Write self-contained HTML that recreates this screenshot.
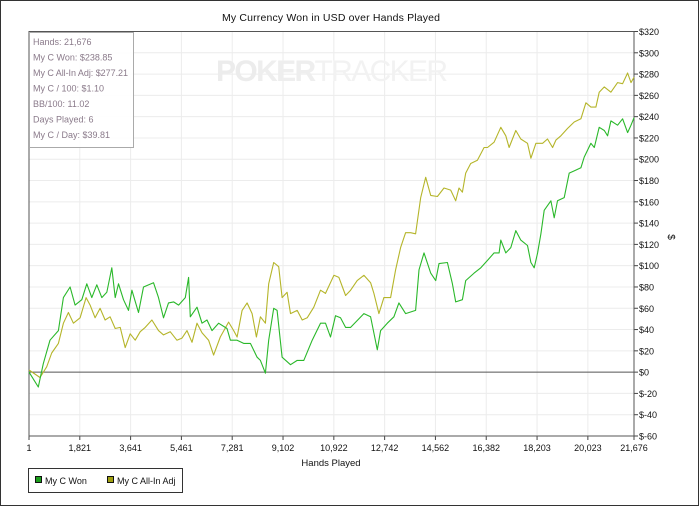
<!DOCTYPE html>
<html><head><meta charset="utf-8"><style>
html,body{margin:0;padding:0;background:#fff}
svg{display:block;font-family:"Liberation Sans",sans-serif}
</style></head><body>
<svg id="chart" width="700" height="507" viewBox="0 0 700 507">
<rect x="0.5" y="0.5" width="698" height="505" fill="#fff" stroke="#333"/>
<text x="331" y="21" font-size="10.5" text-anchor="middle" fill="#111" textLength="218">My Currency Won in USD over Hands Played</text>
<g id="grid"></g>
<text x="332" y="81" font-size="30" text-anchor="middle" fill="#ececec" font-weight="bold" textLength="232">PO<tspan fill="#eeeeee">KER</tspan><tspan font-weight="normal" fill="#f2f2f2">TRACKER</tspan></text>
<g id="axes"></g>
<g id="series"></g>
<g>
<rect x="29.5" y="32.5" width="104" height="115" fill="#fff" fill-opacity="0.9" stroke="#aaa"/>
<g font-size="9" fill="#8a7a8a">
<text x="33" y="45">Hands: 21,676</text>
<text x="33" y="60.5">My C Won: $238.85</text>
<text x="33" y="76" textLength="95">My C All-In Adj: $277.21</text>
<text x="33" y="91.5">My C / 100: $1.10</text>
<text x="33" y="107">BB/100: 11.02</text>
<text x="33" y="122.5">Days Played: 6</text>
<text x="33" y="138">My C / Day: $39.81</text>
</g></g>
<text x="331" y="466" font-size="9.5" text-anchor="middle" fill="#111">Hands Played</text>
<text transform="translate(668,237) rotate(90)" font-size="10" text-anchor="middle" fill="#111">$</text>
<g>
<rect x="28.5" y="468.5" width="154" height="24" fill="#fff" stroke="#333"/>
<g>
<rect x="35.5" y="476.5" width="6" height="6" fill="#1a9e1a" stroke="#111"/>
<text x="45" y="484" font-size="9" fill="#111">My C Won</text></g>
<g>
<rect x="107.5" y="476.5" width="6" height="6" fill="#a0a010" stroke="#111"/>
<text x="117" y="484" font-size="9" fill="#111">My C All-In Adj</text></g>
</g>
</svg>
<script>
const xTicks=[1,1821,3641,5461,7281,9102,10922,12742,14562,16382,18203,20023,21676];
const yTicks=[-60,-40,-20,0,20,40,60,80,100,120,140,160,180,200,220,240,260,280,300,320];
const wonHands=[1,335,515,755,1053,1232,1472,1652,1892,2072,2251,2431,2610,2790,2969,3088,3208,3387,3567,3687,3925,4104,4463,4642,4821,5000,5180,5359,5599,5718,5779,6019,6199,6378,6557,6795,7096,7215,7455,7692,7932,8172,8291,8471,8589,8769,8889,9070,9368,9608,9845,10147,10445,10625,10804,10983,11162,11342,11521,12000,12238,12478,12597,12837,13075,13254,13494,13852,13972,14151,14391,14571,14689,14990,15169,15288,15529,15647,15946,16186,16426,16664,16844,16904,17083,17263,17442,17622,17862,17981,18101,18221,18339,18459,18698,18817,18937,19176,19354,19534,19774,19893,20132,20252,20431,20611,20730,20850,21089,21269,21448,21567,21676];
const wonValues=[0,-14,8,30,39,70,80,63,68,83,70,82,70,75,98,70,83,68,58,77,56,80,84,70,51,65,66,63,70,89,52,61,46,49,39,46,41,30,30,27,27,14,11,-1,30,60,58,14,7,11,11,30,46,46,33,53,51,42,42,55,52,21,39,46,52,65,55,58,96,112,93,86,102,103,83,66,68,86,93,98,105,112,112,124,112,117,133,124,119,103,98,112,130,152,161,145,161,164,187,189,192,202,215,211,230,227,222,236,232,238,225,232,239];
const allinHands=[1,396,636,815,1053,1232,1411,1591,1831,2047,2190,2370,2549,2729,2908,3088,3267,3446,3626,3805,3985,4164,4404,4642,4821,5061,5301,5481,5660,5840,6019,6199,6436,6616,6855,7153,7333,7455,7634,7813,7993,8147,8291,8471,8589,8769,8948,9070,9248,9368,9608,9787,9967,10205,10445,10625,10923,11102,11342,11521,11761,12000,12238,12358,12537,12717,12956,13135,13315,13494,13674,13852,14033,14212,14391,14631,14870,15110,15288,15407,15529,15647,15826,16067,16305,16426,16664,16904,17083,17201,17442,17622,17862,17981,18160,18400,18578,18758,18877,19056,19296,19534,19774,19953,20132,20311,20431,20611,20850,21089,21269,21448,21567,21676];
const allinValues=[2,-5,5,18,27,46,56,46,51,70,63,51,60,49,52,41,42,23,36,30,38,42,49,39,35,38,30,32,39,28,46,37,30,16,33,47,39,33,58,65,55,33,52,46,83,103,99,70,75,55,58,49,51,61,77,74,91,89,72,77,86,91,84,74,55,70,70,96,117,131,131,130,164,183,166,165,173,171,161,173,169,187,196,199,211,211,216,230,222,211,227,219,215,201,215,215,219,211,218,222,229,235,238,253,249,249,263,268,263,272,271,281,272,277];

const NS='http://www.w3.org/2000/svg';
const L=29,R=634,T=31.5,B=436;
const xMin=1,xMax=21676,yMin=-60,yMax=320;
const sx=h=>L+(h-xMin)/(xMax-xMin)*(R-L);
const sy=v=>B-(v-yMin)/(yMax-yMin)*(B-T);
function mk(tag,attrs,parent){const e=document.createElementNS(NS,tag);for(const k in attrs)e.setAttribute(k,attrs[k]);parent.appendChild(e);return e;}
const grid=document.getElementById('grid'),axes=document.getElementById('axes'),ser=document.getElementById('series');
xTicks.forEach(t=>{
  const g=mk('line',{x1:sx(t),x2:sx(t),y1:T,y2:B,stroke:'#ececec','stroke-width':1},grid);
  
  
  const tk=mk('line',{x1:sx(t),x2:sx(t),y1:B,y2:B+4,stroke:'#444'},axes);
  
  
  const lb=mk('text',{x:sx(t),y:B+15,'font-size':9,'text-anchor':'middle',fill:'#111'},axes);
  lb.textContent=t.toLocaleString('en-US');
  
  
});
yTicks.forEach(t=>{
  const g=mk('line',{x1:L,x2:R,y1:sy(t),y2:sy(t),stroke:t===0?'#555':'#ececec','stroke-width':1},grid);
  
  
  const tk=mk('line',{x1:R,x2:R+4,y1:sy(t),y2:sy(t),stroke:'#444'},axes);
  
  
  const lb=mk('text',{x:R+5,y:sy(t)+3.5,'font-size':9,fill:'#111'},axes);
  lb.textContent=(t<0?'$-'+(-t):'$'+t);
  
  
});
const fr=mk('path',{d:`M${L} ${T}H${R}V${B}H${L}Z`,fill:'none',stroke:'#555','stroke-width':1},axes);


function line(hs,vs,color,name){
  const d=hs.map((h,i)=>(i?'L':'M')+sx(h).toFixed(1)+' '+sy(vs[i]).toFixed(1)).join('');
  const p=mk('path',{d:d,fill:'none',stroke:color,'stroke-width':1.1,'stroke-linejoin':'round'},ser);
  
  
}
line(allinHands,allinValues,'#b5b52a','series-allin-adj');
line(wonHands,wonValues,'#2ab82a','series-won');
</script>
</body></html>
